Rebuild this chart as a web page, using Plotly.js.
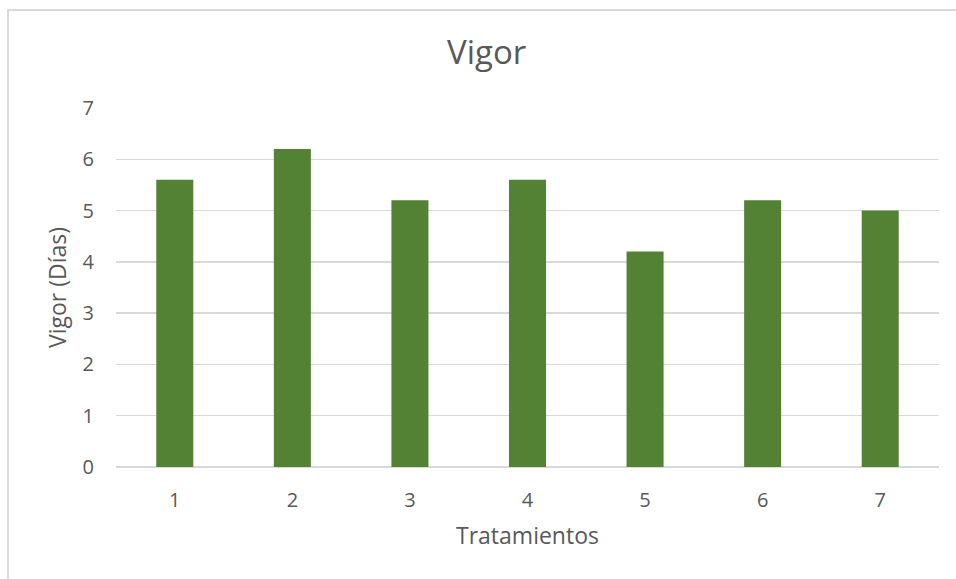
<!DOCTYPE html>
<html>
<head>
<meta charset="utf-8">
<script src="https://cdn.plot.ly/plotly-3.0.1.min.js"></script>
<style>
  html, body { margin: 0; padding: 0; background: #ffffff; overflow: hidden; }
  #chart { width: 956px; height: 579px; position: absolute; left: 0; top: 0; }
  #frame { position: absolute; left: 7px; top: 9px; width: 980px; height: 600px;
           border: 2px solid #d9d9d9; pointer-events: none; box-sizing: border-box; }
</style>
</head>
<body>
<div id="chart"></div>
<div id="frame"></div>
<script>
const categories = ["1", "2", "3", "4", "5", "6", "7"];
const vigorValues = [5.6, 6.2, 5.2, 5.6, 4.2, 5.2, 5.0];
const yTicks = [0, 1, 2, 3, 4, 5, 6, 7];

const FONT = "'Open Sans', 'Noto Sans', sans-serif";
const TXT = "#595959";

const trace = {
  type: "bar",
  x: categories,
  y: vigorValues,
  marker: { color: "#548235", line: { width: 0 } },
  hoverinfo: "x+y"
};

const layout = {
  width: 956,
  height: 579,
  margin: { l: 116, r: 17, t: 108, b: 112, pad: 0 },
  paper_bgcolor: "#ffffff",
  plot_bgcolor: "#ffffff",
  font: { family: FONT, color: TXT },
  showlegend: false,
  bargap: 0.685,
  title: {
    text: "Vigor",
    font: { family: FONT, size: 33, color: TXT },
    x: 0.509, xref: "container", xanchor: "center",
    y: 1 - 52 / 579, yref: "container", yanchor: "middle"
  },
  xaxis: {
    type: "category",
    tickfont: { family: FONT, size: 20, color: TXT },
    ticks: "",
    ticklabelstandoff: 19,
    showgrid: false,
    showline: false,
    zeroline: false,
    automargin: false,
    title: { text: "Tratamientos", font: { family: FONT, size: 23, color: TXT }, standoff: 15 }
  },
  yaxis: {
    range: [0, 7],
    tickvals: yTicks,
    ticktext: yTicks.map(String),
    tickfont: { family: FONT, size: 20, color: TXT },
    ticks: "",
    ticklabelstandoff: 21,
    showgrid: true,
    gridcolor: "#d9d9d9",
    gridwidth: 1.5,
    zeroline: true,
    zerolinecolor: "#d9d9d9",
    zerolinewidth: 1.5,
    showline: false,
    automargin: false,
    title: { text: "Vigor (Días)", font: { family: FONT, size: 23, color: TXT }, standoff: 9 }
  }
};

Plotly.newPlot("chart", [trace], layout, { displayModeBar: false, staticPlot: true });
</script>
</body>
</html>
